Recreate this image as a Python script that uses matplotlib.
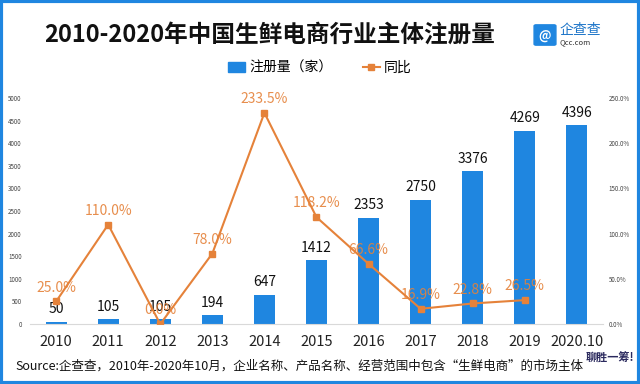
import matplotlib
matplotlib.use("Agg")
import matplotlib.pyplot as plt
import matplotlib.patches as pt
import numpy as np

plt.rcParams['font.family'] = ['Noto Sans CJK SC', 'DejaVu Sans']

years = ['2010', '2011', '2012', '2013', '2014', '2015', '2016', '2017', '2018', '2019', '2020.10']
counts = [50, 105, 105, 194, 647, 1412, 2353, 2750, 3376, 4269, 4396]
growth = [25.0, 110.0, 0.0, 78.0, 233.5, 118.2, 66.6, 16.9, 22.8, 26.5]

blue = '#1f86e0'
orange = '#e5823a'

fig = plt.figure(figsize=(6.4, 3.84), dpi=100)
ax = fig.add_axes([0.047, 0.156, 0.895, 0.589])
ax2 = ax.twinx()

x = np.arange(len(years))
bars = ax.bar(x, counts, width=0.4, color=blue, zorder=2)
ax.set_xlim(-0.5, len(years) - 0.5)
ax.set_ylim(0, 5000)
ax.set_yticks(np.arange(0, 5001, 500))
ax.set_xticks(x)
ax.set_xticklabels(years, fontsize=10.5, color='#222222')
ax.tick_params(axis='x', length=0, pad=8)
ax.tick_params(axis='y', length=0, labelsize=4.5, labelcolor='#444444', pad=6)
for s in ['top', 'right', 'left']:
    ax.spines[s].set_visible(False)
ax.spines['bottom'].set_color('#d9d9d9')

for xi, c in zip(x, counts):
    ax.annotate(str(c), (xi, c), xytext=(0, 4), textcoords='offset points',
                ha='center', va='bottom', fontsize=10, color='#111111')

gx = x[:len(growth)]
ax2.plot(gx, growth, color=orange, lw=1.5, marker='s', markersize=4, zorder=3)
ax2.set_ylim(0, 250)
ax2.set_yticks(np.arange(0, 251, 50))
ax2.set_yticklabels(['%.1f%%' % v for v in np.arange(0, 251, 50)])
ax2.tick_params(axis='y', length=0, labelsize=4.5, labelcolor='#444444', pad=4)
for s in ['top', 'right', 'left', 'bottom']:
    ax2.spines[s].set_visible(False)

for xi, g in zip(gx, growth):
    ax2.annotate('%.1f%%' % g, (xi, g), xytext=(0, 5), textcoords='offset points',
                 ha='center', va='bottom', fontsize=10, color=orange, alpha=0.9)

# title
fig.text(270 / 640, 1 - 35 / 384, '2010-2020年中国生鲜电商行业主体注册量',
         ha='center', va='center', fontsize=17, fontweight='bold', color='#111111')

# legend
handles = [pt.Patch(color=blue),
           plt.Line2D([], [], color=orange, lw=1.5, marker='s', markersize=4)]
fig.legend(handles, ['注册量（家）', '同比'], loc='center', bbox_to_anchor=(0.5, 1 - 68 / 384),
           ncol=2, frameon=False, fontsize=10, handlelength=1.2, handleheight=0.8,
           columnspacing=2.2, handletextpad=0.3)

# logo
fig.patches.append(pt.FancyBboxPatch((536 / 640, 1 - 44 / 384), 18 / 640, 18 / 384,
                                     boxstyle='round,pad=0.003', color=blue,
                                     transform=fig.transFigure, figure=fig))
fig.text(545 / 640, 1 - 35 / 384, '@', ha='center', va='center', fontsize=9,
         color='white', fontweight='bold')
fig.text(560 / 640, 1 - 30 / 384, '企查查', ha='left', va='center', fontsize=10, color='#1a73c8')
fig.text(560 / 640, 1 - 42 / 384, 'Qcc.com', ha='left', va='center', fontsize=5.5, color='#333333')

# source
fig.text(15 / 640, 1 - 366 / 384,
         'Source:企查查，2010年-2020年10月，企业名称、产品名称、经营范围中包含“生鲜电商”的市场主体',
         ha='left', va='center', fontsize=9, color='#111111')

fig.text(610 / 640, 1 - 358 / 384, '聊胜一筹!', ha='center', va='center', fontsize=8,
         fontweight='bold', color='#2b2a5e')

# blue frame
fig.patches.append(pt.Rectangle((0.002, 0.003), 0.996, 0.994, fill=False, ec=blue, lw=3,
                                transform=fig.transFigure, figure=fig))

fig.savefig('out.png', dpi=100)
